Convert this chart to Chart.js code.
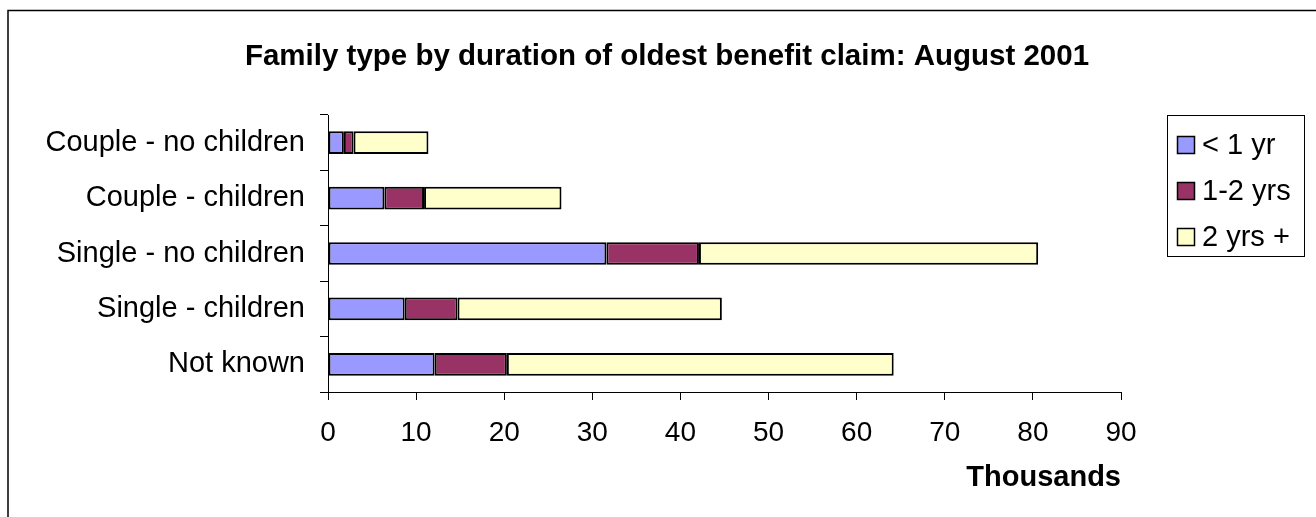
<!DOCTYPE html>
<html>
<head>
<meta charset="utf-8">
<title>Family type by duration of oldest benefit claim</title>
<script src="https://cdn.jsdelivr.net/npm/chart.js@4"></script>
<style>
  html, body { margin: 0; padding: 0; background: #fff; }
  canvas { display: block; }
</style>
</head>
<body>
<canvas id="chart" width="1316" height="517"></canvas>
<script>
// Categories, top to bottom
const categories = ['Couple - no children', 'Couple - children', 'Single - no children', 'Single - children', 'Not known'];

// Values in thousands
const underOneYear  = [1.8, 6.4, 31.6, 8.7, 12.1];
const oneToTwoYears = [1.1, 4.5, 10.5, 6.0, 8.2];
const twoYearsPlus  = [8.5, 15.6, 38.5, 30.0, 43.9];

const seriesNames = ['< 1 yr', '1-2 yrs', '2 yrs +'];
const seriesColors = ['#9999FF', '#993366', '#FFFFCC'];

// x axis runs 0..90 in steps of 10
const xMin = 0;
const xMax = 90;
const xStep = 10;

const chartTitle = 'Family type by duration of oldest benefit claim: August 2001';
const xTitle = 'Thousands';

const FONT = "'Liberation Sans', Arial, Helvetica, sans-serif";
Chart.defaults.font.family = FONT;
Chart.defaults.color = '#000';

// Frame, title and boxed legend drawn straight on the canvas
const decorations = {
    id: 'decorations',
    beforeDraw(chart) {
        const ctx = chart.ctx;
        ctx.save();
        ctx.fillStyle = '#fff';
        ctx.fillRect(0, 0, chart.width, chart.height);
        // outer frame runs off the right and bottom of the picture
        ctx.strokeStyle = '#000';
        ctx.lineWidth = 1.5;
        ctx.strokeRect(8, 10.5, chart.width + 40, chart.height + 40);
        ctx.restore();
    },
    afterDraw(chart) {
        const ctx = chart.ctx;
        ctx.save();

        // title
        ctx.fillStyle = '#000';
        ctx.font = 'bold 29.5px ' + FONT;
        ctx.textAlign = 'center';
        ctx.textBaseline = 'alphabetic';
        ctx.fillText(chartTitle, 667, 65);

        // legend box
        ctx.strokeStyle = '#000';
        ctx.lineWidth = 1;
        ctx.strokeRect(1167.5, 115.5, 137, 141);

        ctx.font = '29px ' + FONT;
        ctx.textAlign = 'left';
        ctx.textBaseline = 'middle';
        chart.data.datasets.forEach((ds, i) => {
            const cy = 145 + i * 46;
            ctx.fillStyle = ds.backgroundColor;
            ctx.fillRect(1177.5, cy - 8.5, 17, 17);
            ctx.lineWidth = 1.5;
            ctx.strokeRect(1177.5, cy - 8.5, 17, 17);
            ctx.fillStyle = '#000';
            ctx.fillText(ds.label, 1202, cy + 1);
        });
        ctx.restore();
    }
};

const ctx = document.getElementById('chart').getContext('2d');

const chart = new Chart(ctx, {
    type: 'bar',
    data: {
        labels: categories,
        datasets: [
            { label: seriesNames[0], data: underOneYear,  backgroundColor: seriesColors[0] },
            { label: seriesNames[1], data: oneToTwoYears, backgroundColor: seriesColors[1] },
            { label: seriesNames[2], data: twoYearsPlus,  backgroundColor: seriesColors[2] }
        ]
    },
    options: {
        indexAxis: 'y',
        responsive: false,
        animation: false,
        devicePixelRatio: 1,
        layout: {
            padding: { top: 115, right: 195, bottom: 0, left: 0 }
        },
        datasets: {
            bar: {
                borderColor: '#000',
                borderWidth: 2,
                borderSkipped: false,
                categoryPercentage: 1,
                barPercentage: 0.41
            }
        },
        plugins: {
            legend: { display: false },
            title: { display: false },
            tooltip: { enabled: false }
        },
        scales: {
            x: {
                stacked: true,
                min: xMin,
                max: xMax,
                ticks: {
                    stepSize: xStep,
                    padding: 16,
                    color: '#000',
                    font: { size: 28 }
                },
                grid: {
                    drawOnChartArea: false,
                    tickLength: 8,
                    color: '#000'
                },
                border: { color: '#000', width: 1 },
                title: {
                    display: true,
                    text: xTitle,
                    align: 'end',
                    color: '#000',
                    font: { size: 29, weight: 'bold' },
                    padding: { top: 0, bottom: 22 }
                },
                afterFit(scale) {
                    scale.height = 125;
                }
            },
            y: {
                stacked: true,
                ticks: {
                    padding: 15,
                    color: '#000',
                    font: { size: 29 }
                },
                grid: {
                    offset: true,
                    drawOnChartArea: false,
                    tickLength: 8,
                    color: '#000'
                },
                border: { color: '#000', width: 1 },
                afterFit(scale) {
                    scale.width = 328;
                }
            }
        }
    },
    plugins: [decorations]
});
</script>
</body>
</html>
